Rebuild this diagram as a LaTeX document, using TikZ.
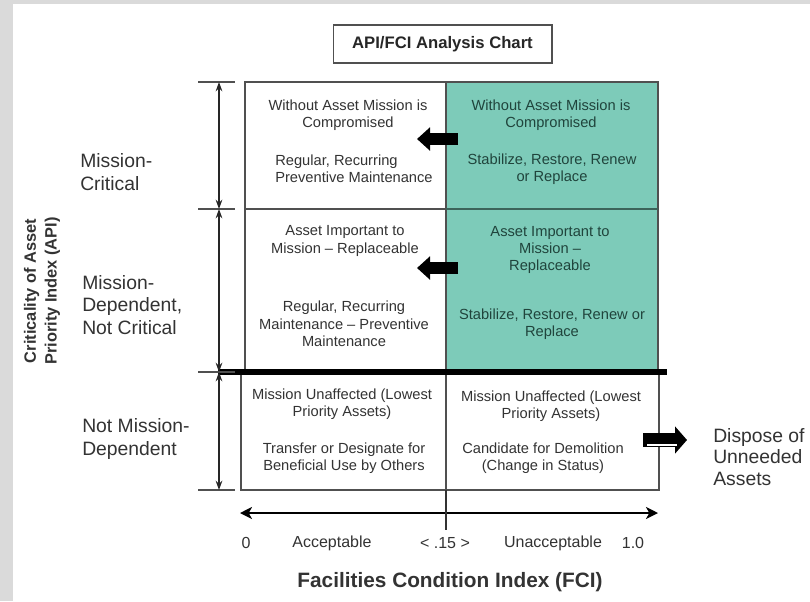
\documentclass[tikz,border=0pt]{standalone}
\usepackage{fontspec}
\setmainfont{Liberation Sans}
\usetikzlibrary{arrows.meta}
\definecolor{tealfill}{RGB}{125,203,185}
\definecolor{txt}{RGB}{51,51,51}
\definecolor{tealtxt}{RGB}{32,68,60}
\definecolor{gridc}{RGB}{80,80,80}
\definecolor{tealgrid}{RGB}{60,100,90}
\definecolor{bandgray}{RGB}{218,218,218}
\begin{document}
\begin{tikzpicture}[x=0.75pt,y=-0.75pt,
  celltext/.style={font=\fontsize{11}{13}\selectfont, text=txt, align=center, inner sep=0pt},
  tealtext/.style={celltext, text=tealtxt},
  sidelabel/.style={font=\fontsize{14.5}{17}\selectfont, text=txt, align=left, anchor=west, inner sep=0pt},
  axislabel/.style={font=\fontsize{12}{14}\selectfont, text=txt, inner sep=0pt},
  gridline/.style={draw=gridc, line width=1.1pt},
  dimarrow/.style={draw=black!85, line width=1pt, {Stealth[length=7pt,width=5pt]}-{Stealth[length=7pt,width=5pt]}},
  dimtick/.style={draw=gridc, line width=1pt},
  bigarrow/.style={line width=9pt, -{Triangle[length=9.75pt,width=17pt]}},
]
\useasboundingbox (0,0) rectangle (810,601);
\clip (0,0) rectangle (810,601);
% background
\fill[white] (0,0) rectangle (810,601);
\fill[bandgray] (0,0) rectangle (810,4);
\fill[bandgray] (0,0) rectangle (13,601);

% title
\node[draw=gridc, line width=1pt, minimum width=164pt, minimum height=28.5pt, inner sep=0pt,
      font=\fontsize{12.5}{14}\selectfont\bfseries, text=black!85] (title) at (442.5,44) {API/FCI Analysis Chart};

% teal cells
\fill[tealfill] (446,82) rectangle (658,372);
% grid
\draw[gridline] (245,82) rectangle (658,372);
\draw[gridline] (245,209) -- (658,209);
\draw[gridline] (446,82) -- (446,372);
\draw[draw=tealgrid, line width=1.1pt] (446,209) -- (658,209);
\draw[gridline] (241,372) rectangle (659,490);
\draw[gridline] (446,372) -- (446,490);
\draw[black, line width=4.2pt] (218,372) -- (667,372);

% dimension ticks and arrows
\coordinate (d0) at (219,82);
\coordinate (d1) at (219,209);
\coordinate (d2) at (219,372);
\coordinate (d3) at (219,490);
\foreach \yy in {82,209,372,490} { \draw[dimtick] (198,\yy) -- (235,\yy); }
\draw[dimarrow] (d0) -- (d1);
\draw[dimarrow] (d1) -- (d2);
\draw[dimarrow] (d2) -- (d3);

% side labels
\node[sidelabel] (mc) at (80,172) {Mission-\\Critical};
\node[sidelabel] (md) at (82,305) {Mission-\\Dependent,\\Not Critical};
\node[sidelabel] (nmd) at (82,439) {Not Mission-\\Dependent};
\node[font=\fontsize{12.3}{15.5}\selectfont\bfseries, text=txt, align=center, rotate=90, inner sep=0pt] (api) at (42,291) {Criticality of Asset\\Priority Index (API)};

% top row
\node[celltext] (tl1) at (348,115) {Without Asset Mission is\\Compromised};
\node[celltext, align=left] (tl2) at (354,169) {Regular, Recurring\\Preventive Maintenance};
\node[tealtext] (tr1) at (551,115) {Without Asset Mission is\\Compromised};
\node[tealtext] (tr2) at (552,169) {Stabilize, Restore, Renew\\or Replace};
% middle row
\node[celltext] (ml1) at (345,241) {Asset Important to\\Mission -- Replaceable};
\node[celltext] (ml2) at (344,324) {Regular, Recurring\\Maintenance -- Preventive\\Maintenance};
\node[tealtext] (mr1) at (550,250) {Asset Important to\\Mission --\\Replaceable};
\node[tealtext] (mr2) at (552,324) {Stabilize, Restore, Renew or\\Replace};
% bottom row
\node[celltext] (bl1) at (342,404) {Mission Unaffected (Lowest\\Priority Assets)};
\node[celltext] (bl2) at (344,458) {Transfer or Designate for\\Beneficial Use by Others};
\node[celltext] (br1) at (551,406) {Mission Unaffected (Lowest\\Priority Assets)};
\node[celltext] (br2) at (543,458) {Candidate for Demolition\\(Change in Status)};

% thick arrows
\coordinate (a1s) at (458,139); \coordinate (a1e) at (417,139);
\coordinate (a2s) at (458,268); \coordinate (a2e) at (417,268);
\draw[bigarrow] (a1s) -- (a1e);
\draw[bigarrow] (a2s) -- (a2e);
\coordinate (a3s) at (643,440); \coordinate (a3e) at (687,440);
\draw[line width=10pt, -{Triangle[length=9pt,width=20pt]}] (a3s) -- (a3e);
\draw[white, line width=1.2pt] (647,445) -- (677,445);
\node[sidelabel, font=\fontsize{14.5}{16}\selectfont] (disp) at (713,457) {Dispose of\\Unneeded\\Assets};

% FCI axis
\coordinate (x0) at (240,513);
\coordinate (x1) at (658,513);
\draw[black, line width=2.2pt, {Stealth[length=9pt,width=9pt,inset=2.5pt]}-{Stealth[length=9pt,width=9pt,inset=2.5pt]}] (x0) -- (x1);
\coordinate (tk0) at (446,490);
\coordinate (tk1) at (446,530);
\draw[black!80, line width=1pt] (tk0) -- (tk1);
\node[axislabel] (l0) at (246,543) {0};
\node[axislabel] (lacc) at (332,543) {Acceptable};
\node[axislabel] (lmid) at (445,543) {< .15 >};
\node[axislabel] (lun) at (553,543) {Unacceptable};
\node[axislabel] (l1) at (633,543) {1.0};
\node[font=\fontsize{15.6}{18}\selectfont\bfseries, text=txt, inner sep=0pt] (fci) at (450,582) {Facilities Condition Index (FCI)};
\end{tikzpicture}
\end{document}
